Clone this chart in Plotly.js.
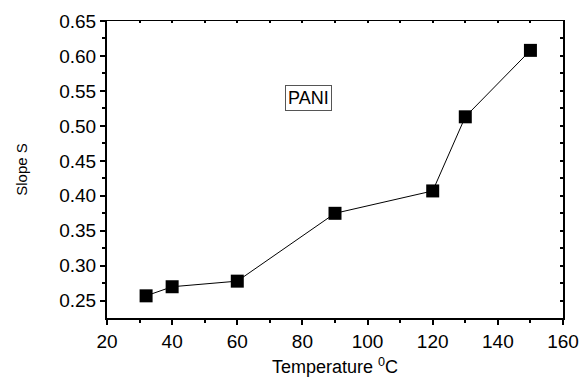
<!DOCTYPE html>
<html><head><meta charset="utf-8">
<script src="https://cdn.plot.ly/plotly-3.0.1.min.js"></script>
<style>html,body{margin:0;padding:0;background:#fff}#c{width:580px;height:378px}</style>
</head><body><div id="c"></div>
<script>
const temperature = [32, 40, 60, 90, 120, 130, 150];
const slope = [0.257, 0.270, 0.278, 0.375, 0.407, 0.513, 0.608];
const xTicks = [20, 40, 60, 80, 100, 120, 140, 160];
const yTicks = [0.25, 0.30, 0.35, 0.40, 0.45, 0.50, 0.55, 0.60, 0.65];
const label = "PANI";

const F = "Liberation Sans, Arial, sans-serif";
const data = [
  {x: temperature, y: slope, type: 'scatter', mode: 'lines+markers',
   line: {color: '#000', width: 1},
   marker: {symbol: 'square', size: 13, color: '#000'}, showlegend: false, hoverinfo: 'skip'},
  {x: [temperature[0]], y: [slope[0]], xaxis: 'x2', yaxis: 'y2', type: 'scatter', mode: 'markers',
   marker: {opacity: 0}, showlegend: false, hoverinfo: 'skip'}
];
const layout = {
  width: 580, height: 378,
  margin: {l: 107, r: 17, t: 21, b: 60},
  paper_bgcolor: '#fff', plot_bgcolor: '#fff',
  font: {family: F, color: '#000'},
  xaxis: {range: [20, 160], tickvals: xTicks, ticktext: xTicks.map(String),
    showgrid: false, zeroline: false, showline: true, linewidth: 2, linecolor: '#000',
    ticks: 'outside', ticklen: 5, tickwidth: 2, tickcolor: '#000',
    minor: {dtick: 10, tick0: 0, ticks: 'outside', ticklen: 3, tickwidth: 2, tickcolor: '#000'},
    tickfont: {size: 19, family: F},
    title: {text: 'Temperature <sup>0</sup>C', font: {size: 18, family: F}, standoff: 10}},
  yaxis: {range: [0.2253, 0.65], tickvals: yTicks, ticktext: yTicks.map(v => v.toFixed(2)),
    showgrid: false, zeroline: false, showline: true, linewidth: 2, linecolor: '#000',
    ticks: 'outside', ticklen: 5, tickwidth: 2, tickcolor: '#000',
    minor: {dtick: 0.025, tick0: 0, ticks: 'outside', ticklen: 3, tickwidth: 2, tickcolor: '#000'},
    tickfont: {size: 19, family: F},
    title: {text: 'Slope S', font: {size: 15, family: F}, standoff: 28}},
  xaxis2: {overlaying: 'x', side: 'top', anchor: 'y2', range: [20, 160], showticklabels: false,
    showgrid: false, zeroline: false, showline: true, linewidth: 1.5, linecolor: '#000',
    ticks: 'inside', ticklen: 2, tickwidth: 2, tickcolor: '#000', dtick: 10, tick0: 0},
  yaxis2: {overlaying: 'y', side: 'right', anchor: 'x2', range: [0.2253, 0.65], showticklabels: false,
    showgrid: false, zeroline: false, showline: true, linewidth: 2, linecolor: '#000',
    ticks: 'inside', ticklen: 3, tickwidth: 2, tickcolor: '#000', dtick: 0.025, tick0: 0},
  annotations: [{x: 81.8, y: 0.5396, xref: 'x', yref: 'y', text: label, showarrow: false,
    font: {size: 18, family: F, color: '#000'}, bordercolor: '#555', borderwidth: 1, borderpad: 2, bgcolor: '#fff'}]
};
Plotly.newPlot('c', data, layout, {staticPlot: true, displayModeBar: false});
</script>
</body></html>
